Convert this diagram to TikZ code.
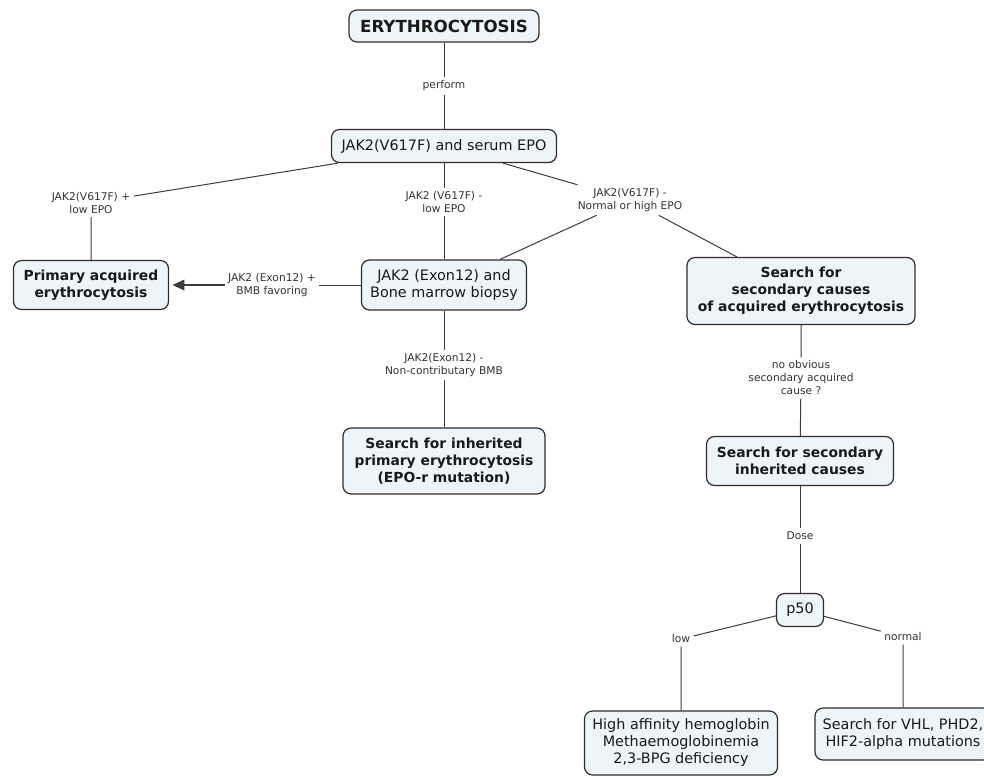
\documentclass[tikz,border=0pt]{standalone}
\usepackage{fontspec}
\setmainfont{DejaVu Sans}
\usetikzlibrary{arrows.meta}
\definecolor{boxfill}{RGB}{238,245,248}
\definecolor{boxline}{RGB}{45,45,45}
\definecolor{linkgray}{RGB}{60,60,60}

\begin{document}
\begin{tikzpicture}[x=0.75pt, y=-0.75pt,
  box/.style={draw=boxline, fill=boxfill, line width=0.9pt, rounded corners=6pt,
    align=center, inner sep=0pt, text=black!90, font=\fontsize{10.8}{12.75}\selectfont},
  boldbox/.style={box, font=\fontsize{10.4}{12.75}\selectfont\bfseries},
  lbl/.style={align=center, inner sep=2.5pt, text=black!80, font=\fontsize{8}{9.75}\selectfont},
  link/.style={draw=linkgray, line width=0.75pt}]

  \useasboundingbox (0,0) rectangle (984,776);

  \node[boldbox, minimum width=142.5pt, minimum height=24pt,
    font=\fontsize{12.5}{15}\selectfont\bfseries] (erythro) at (444,26) {ERYTHROCYTOSIS};
  \node[box, minimum width=168.75pt, minimum height=24.75pt] (jak) at (444,146) {JAK2(V617F) and serum EPO};
  \node[boldbox, minimum width=116.25pt, minimum height=36.75pt] (prim) at (91,285) {Primary acquired\\erythrocytosis};
  \node[box, minimum width=123.75pt, minimum height=37.5pt] (exon) at (444,285) {JAK2 (Exon12) and\\Bone marrow biopsy};
  \node[boldbox, minimum width=171pt, minimum height=50.25pt] (seccause) at (801,291) {Search for\\secondary causes\\of acquired erythrocytosis};
  \node[boldbox, minimum width=151.5pt, minimum height=49.5pt] (inherit) at (444,461) {Search for inherited\\primary erythrocytosis\\(EPO-r mutation)};
  \node[boldbox, minimum width=140.25pt, minimum height=36.75pt] (secinherit) at (800,461) {Search for secondary\\inherited causes};
  \node[box, minimum width=35.25pt, minimum height=24.75pt] (pfifty) at (800,610) {p50};
  \node[box, minimum width=144.75pt, minimum height=48pt] (affinity) at (681,743) {High affinity hemoglobin\\Methaemoglobinemia\\2,3-BPG deficiency};
  \node[box, minimum width=132pt, minimum height=39pt] (vhl) at (903,734) {Search for VHL, PHD2,\\HIF2-alpha mutations};

  \node[lbl] (perform) at (444,86) {perform};
  \node[lbl] (lowplus) at (91,203) {JAK2(V617F) +\\low EPO};
  \node[lbl] (lowminus) at (444,202) {JAK2 (V617F) -\\low EPO};
  \node[lbl] (highepo) at (630,200) {JAK2(V617F) -\\Normal or high EPO};
  \node[lbl] (bmbfav) at (272,285) {JAK2 (Exon12) +\\BMB favoring};
  \node[lbl] (noncontrib) at (444,365) {JAK2(Exon12) -\\Non-contributary BMB};
  \node[lbl] (noobvious) at (801,378) {no obvious\\secondary acquired\\cause ?};
  \node[lbl] (dose) at (800,536) {Dose};
  \node[lbl] (low) at (681,639) {low};
  \node[lbl] (normal) at (903,637) {normal};

  \draw[link] (erythro) -- (perform) -- (jak);
  \draw[link] (jak) -- (lowplus) -- (prim);
  \draw[link] (jak) -- (lowminus) -- (exon);
  \draw[link] (jak) -- (highepo) -- (exon);
  \draw[link] (highepo) -- (seccause);
  \draw[link] (exon) -- (bmbfav);
  \draw[link, line width=1.2pt, -{Triangle[length=9pt, width=8pt]}, shorten >=2.5pt] (bmbfav) -- (prim);
  \draw[link] (exon) -- (noncontrib) -- (inherit);

  \draw[link] (seccause) -- (noobvious) -- (secinherit);
  \draw[link] (secinherit) -- (dose) -- (pfifty);
  \draw[link] (pfifty) -- (low) -- (affinity);
  \draw[link] (pfifty) -- (normal) -- (vhl);

\end{tikzpicture}
\end{document}
